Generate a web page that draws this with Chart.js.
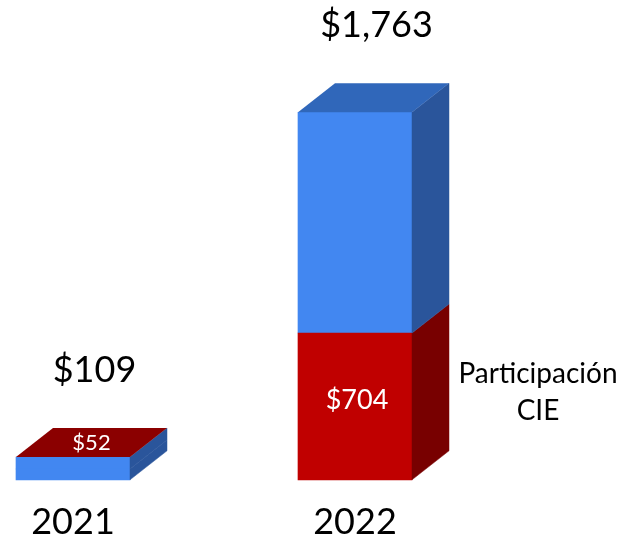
<!DOCTYPE html>
<html>
<head>
<meta charset="utf-8">
<script src="https://cdn.jsdelivr.net/npm/chart.js@4"></script>
<style>
  html, body { margin: 0; padding: 0; background: #ffffff; }
  #wrap { width: 640px; height: 542px; position: relative; }
</style>
</head>
<body>
<div id="wrap"><canvas id="c"></canvas></div>
<script>
// ---- data ----
const categories = ['2021', '2022'];
const cieValues = [52, 704];            // Participación CIE
const otherValues = [57, 1059];         // resto (total - CIE)
const seriesNames = ['Participación CIE', 'Otros'];

// ---- style ----
const DX = 37, DY = 29;
const FONT = 'Lato, "Open Sans", sans-serif';
const frontColors = [['#4287F1', '#C00000'], ['#4287F1', '#4287F1']];
const sideColors  = [['#2A559B', '#780000'], ['#2A559B', '#2A559B']];
const topColors   = ['#8B0000', '#3067BA'];

const fmt = v => '$' + v.toLocaleString('en-US');

const bar3d = {
  id: 'bar3d',
  afterDatasetsDraw(chart) {
    const ctx = chart.ctx;
    const n = chart.data.labels.length;
    ctx.save();
    for (let i = 0; i < n; i++) {
      let top = null;
      chart.data.datasets.forEach((ds, d) => {
        const el = chart.getDatasetMeta(d).data[i];
        const p = el.getProps(['x', 'y', 'base', 'width'], true);
        const r = p.x + p.width / 2;
        ctx.fillStyle = sideColors[d][i];
        ctx.strokeStyle = sideColors[d][i];
        ctx.lineWidth = 0.5;
        ctx.beginPath();
        ctx.moveTo(r, p.y);
        ctx.lineTo(r + DX, p.y - DY);
        ctx.lineTo(r + DX, p.base - DY);
        ctx.lineTo(r, p.base);
        ctx.closePath();
        ctx.fill();
        ctx.stroke();
        if (!top || p.y < top.y) top = p;
      });
      const l = top.x - top.width / 2, r = top.x + top.width / 2;
      ctx.fillStyle = topColors[i];
      ctx.beginPath();
      ctx.moveTo(l, top.y);
      ctx.lineTo(l + DX, top.y - DY);
      ctx.lineTo(r + DX, top.y - DY);
      ctx.lineTo(r, top.y);
      ctx.closePath();
      ctx.fill();
    }
    ctx.restore();
  },
  afterDraw(chart) {
    const ctx = chart.ctx;
    const n = chart.data.labels.length;
    ctx.save();
    ctx.textAlign = 'center';
    ctx.textBaseline = 'middle';
    for (let i = 0; i < n; i++) {
      const cieEl = chart.getDatasetMeta(0).data[i].getProps(['x', 'y', 'base', 'width'], true);
      const othEl = chart.getDatasetMeta(1).data[i].getProps(['x', 'y', 'base', 'width'], true);
      const topY = Math.min(cieEl.y, othEl.y);
      const total = cieValues[i] + otherValues[i];
      // total label
      ctx.fillStyle = '#000000';
      ctx.font = '36px ' + FONT;
      ctx.fillText(fmt(total), cieEl.x + DX / 2 + 3, topY - DY - 58);
      // CIE label
      const h = cieEl.base - cieEl.y;
      ctx.fillStyle = '#ffffff';
      if (h < 40) {
        ctx.font = '22px ' + FONT;
        ctx.fillText(fmt(cieValues[i]), cieEl.x + DX / 2, topY - DY / 2);
      } else {
        ctx.font = '27px ' + FONT;
        const mid = (cieEl.y + cieEl.base) / 2;
        ctx.fillText(fmt(cieValues[i]), cieEl.x + 2, mid - 6);
        // series name next to the segment
        ctx.fillStyle = '#000000';
        ctx.font = '28px ' + FONT;
        const cx = cieEl.x + cieEl.width / 2 + DX + 89;
        ctx.fillText('Participación', cx, mid - 32);
        ctx.fillText('CIE', cx, mid + 5);
      }
    }
    ctx.restore();
  }
};

new Chart(document.getElementById('c'), {
  type: 'bar',
  data: {
    labels: categories,
    datasets: [
      { label: seriesNames[0], data: cieValues, backgroundColor: frontColors[0], clip: false, barThickness: 114, borderWidth: 0 },
      { label: seriesNames[1], data: otherValues, backgroundColor: frontColors[1], clip: false, barThickness: 114, borderWidth: 0 }
    ]
  },
  options: {
    responsive: true,
    maintainAspectRatio: false,
    animation: false,
    events: [],
    layout: { padding: { left: 73, right: 285, top: 42, bottom: -23 } },
    plugins: { legend: { display: false }, tooltip: { enabled: false } },
    scales: {
      x: {
        stacked: true,
        offset: false,
        grid: { display: false, drawTicks: false },
        border: { display: false },
        ticks: { color: '#000000', padding: 21, font: { family: FONT, size: 36 } }
      },
      y: {
        stacked: true,
        display: false,
        min: 0,
        max: 2100
      }
    }
  },
  plugins: [bar3d]
});
</script>
</body>
</html>
